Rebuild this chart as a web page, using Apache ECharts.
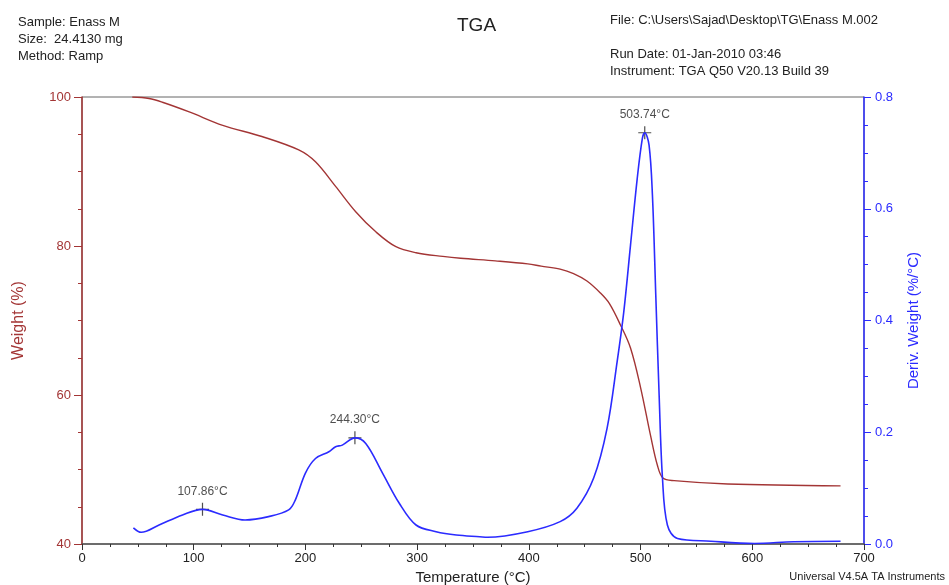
<!DOCTYPE html>
<html><head><meta charset="utf-8">
<script src="https://cdn.jsdelivr.net/npm/echarts@6/dist/echarts.min.js"></script>
<style>html,body{margin:0;padding:0;background:#fff}#c{width:949px;height:585px}</style>
</head><body><div id="c"></div>
<script>
// Weight (%) vs temperature (°C)
const weightTemp = [45, 60, 72, 96, 126, 161, 194, 209, 227, 245, 263, 281, 299, 323, 339, 370, 399, 411, 428, 440, 452, 464, 472, 482, 491, 500, 509, 515, 520, 530, 578, 679];
const weightVal  = [100, 99.8, 99.3, 98.0, 96.2, 94.7, 92.9, 91.3, 88.0, 84.6, 81.9, 79.9, 79.1, 78.6, 78.35, 78.0, 77.6, 77.3, 76.9, 76.3, 75.3, 73.7, 72.3, 69.4, 66.3, 61.0, 54.5, 50.6, 48.85, 48.5, 48.05, 47.8];
// Deriv. Weight (%/°C) vs temperature (°C)
const derivTemp = [46, 53, 69, 90, 107.86, 126, 146, 167, 185, 191, 200, 209, 221, 227, 233, 244.3, 254, 269, 284, 299, 317, 335, 356, 363, 399, 428, 443, 458, 470, 479, 485, 491, 497, 501.6, 503.74, 507.6, 510.6, 513.6, 516.6, 519.6, 524, 533, 563, 602, 637, 679];
const derivVal  = [0.029, 0.021, 0.034, 0.052, 0.062, 0.052, 0.043, 0.049, 0.061, 0.079, 0.127, 0.153, 0.165, 0.174, 0.177, 0.190, 0.180, 0.127, 0.073, 0.034, 0.022, 0.016, 0.013, 0.012, 0.022, 0.040, 0.064, 0.118, 0.207, 0.326, 0.416, 0.535, 0.654, 0.726, 0.736, 0.714, 0.625, 0.446, 0.267, 0.118, 0.034, 0.010, 0.005, 0.001, 0.004, 0.005];
// Marked peaks
const peakTemp = [107.86, 244.30, 503.74];
const peakDeriv = [0.062, 0.190, 0.736];
const peakLabels = ['107.86°C', '244.30°C', '503.74°C'];
// Axis ticks
const xTicks = [0, 100, 200, 300, 400, 500, 600, 700];
const leftTicks = [40, 60, 80, 100];
const rightTicks = [0.0, 0.2, 0.4, 0.6, 0.8];

const RED = '#a33535';
const BLUE = '#2b2bff';
const FONT = '"Liberation Sans", Arial, sans-serif';

const chart = echarts.init(document.getElementById('c'), null, {renderer: 'canvas'});
chart.setOption({
  animation: false,
  backgroundColor: '#fff',
  textStyle: {fontFamily: FONT},
  grid: {left: 82, right: 85, top: 97, bottom: 41, containLabel: false, outerBoundsMode: 'none',
    show: true, borderColor: '#666', borderWidth: 1, backgroundColor: 'transparent'},
  xAxis: {
    type: 'value', min: xTicks[0], max: xTicks[xTicks.length - 1], interval: 100,
    name: 'Temperature (°C)', nameLocation: 'middle', nameGap: 25,
    nameTextStyle: {fontSize: 15, color: '#222', fontFamily: FONT},
    axisLine: {show: true, lineStyle: {color: '#555', width: 1.5}},
    axisTick: {show: true, length: 6, lineStyle: {color: '#333'}},
    minorTick: {show: true, splitNumber: 4, length: 3, lineStyle: {color: '#333'}},
    splitLine: {show: false},
    axisLabel: {fontSize: 13, color: '#222', margin: 8, fontFamily: FONT}
  },
  yAxis: [{
    type: 'value', min: leftTicks[0], max: leftTicks[leftTicks.length - 1], interval: 20, position: 'left',
    name: 'Weight (%)', nameLocation: 'middle', nameGap: 55,
    nameTextStyle: {fontSize: 16, color: RED, fontFamily: FONT},
    axisLine: {show: true, lineStyle: {color: RED, width: 1.5}},
    axisTick: {show: true, length: 8, lineStyle: {color: RED}},
    minorTick: {show: true, splitNumber: 4, length: 4, lineStyle: {color: RED}},
    splitLine: {show: false},
    axisLabel: {fontSize: 13, color: RED, margin: 11, fontFamily: FONT}
  }, {
    type: 'value', min: rightTicks[0], max: rightTicks[rightTicks.length - 1], interval: 0.2, position: 'right',
    name: 'Deriv. Weight (%/°C)', nameLocation: 'middle', nameGap: 42, nameRotate: 90,
    nameTextStyle: {fontSize: 15, color: BLUE, fontFamily: FONT},
    axisLine: {show: true, lineStyle: {color: BLUE, width: 1.5}},
    axisTick: {show: true, length: 7, lineStyle: {color: BLUE}},
    minorTick: {show: true, splitNumber: 4, length: 4, lineStyle: {color: BLUE}},
    splitLine: {show: false},
    axisLabel: {fontSize: 13, color: BLUE, margin: 11, fontFamily: FONT,
      formatter: v => v.toFixed(1)}
  }],
  series: [{
    type: 'line', yAxisIndex: 0, showSymbol: false, smooth: 0.35,
    lineStyle: {color: RED, width: 1.4},
    data: weightTemp.map((t, i) => [t, weightVal[i]])
  }, {
    type: 'line', yAxisIndex: 1, showSymbol: false, smooth: 0.35,
    lineStyle: {color: BLUE, width: 1.6},
    data: derivTemp.map((t, i) => [t, derivVal[i]])
  }, {
    type: 'scatter', yAxisIndex: 1,
    symbol: 'path://M0,6L12,6M6,0L6,12', symbolSize: 13,
    itemStyle: {color: 'none', borderColor: '#222', borderWidth: 1.2},
    label: {show: true, position: 'top', distance: 3, fontSize: 12, color: '#222', fontFamily: FONT,
      formatter: p => peakLabels[p.dataIndex]},
    data: peakTemp.map((t, i) => [t, peakDeriv[i]])
  }],
  graphic: [
    {type: 'text', left: 18, top: 14, style: {text: 'Sample: Enass M\nSize:  24.4130 mg\nMethod: Ramp', lineHeight: 17, fill: '#222', font: '13px ' + FONT}},
    {type: 'text', left: 457, top: 16, style: {text: 'TGA', fill: '#222', font: '19px ' + FONT}},
    {type: 'text', left: 610, top: 14, style: {text: 'File: C:\\Users\\Sajad\\Desktop\\TG\\Enass M.002', fill: '#222', font: '13px ' + FONT}},
    {type: 'text', left: 610, top: 46, style: {text: 'Run Date: 01-Jan-2010 03:46\nInstrument: TGA Q50 V20.13 Build 39', lineHeight: 17, fill: '#222', font: '13px ' + FONT}},
    {type: 'text', right: 4, top: 571, style: {text: 'Universal V4.5A TA Instruments', fill: '#222', font: '11px ' + FONT}}
  ]
});
</script></body></html>
